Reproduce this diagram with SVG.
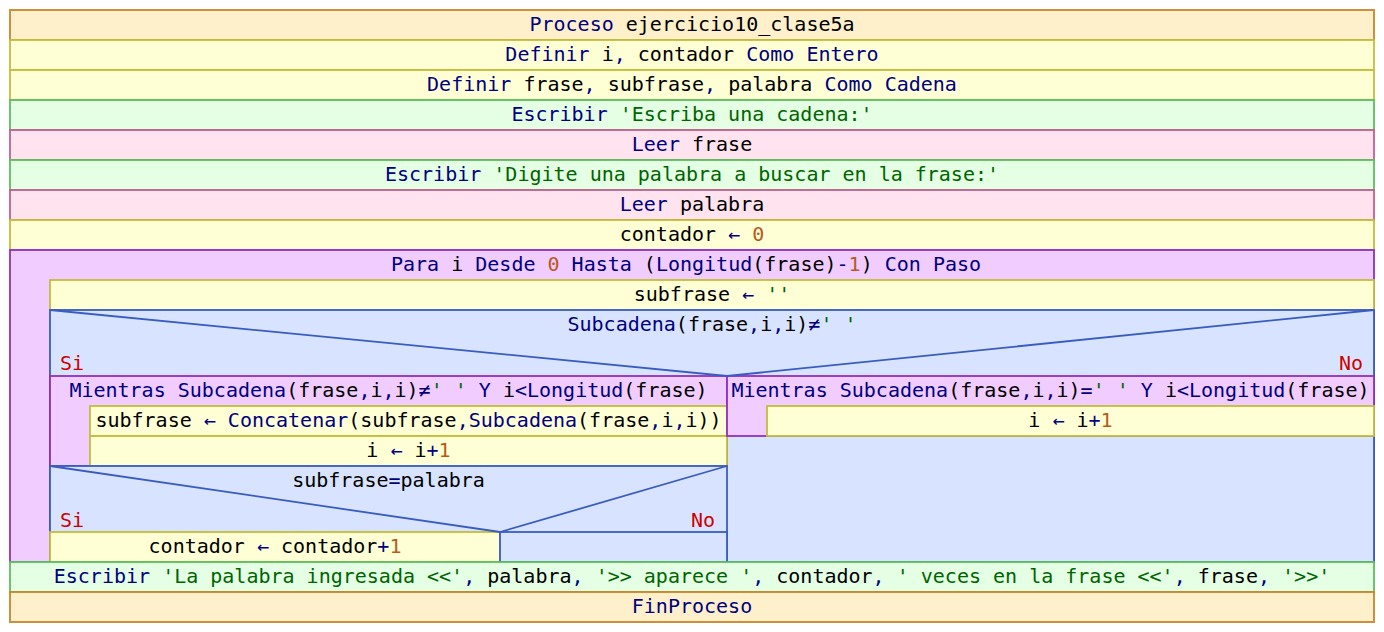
<svg xmlns="http://www.w3.org/2000/svg" width="1384" height="632" viewBox="0 0 1384 632">
<style>
text{font-family:"DejaVu Sans Mono","Liberation Mono",monospace;font-size:20px;fill:#000080;text-anchor:middle}
.st{stroke-width:1.8}
.proc{fill:#fff0cc;stroke:#c8862a}
.asg{fill:#ffffd6;stroke:#c4bc3c}
.out{fill:#e4ffe4;stroke:#5cbf5c}
.inp{fill:#ffe4f0;stroke:#c06090}
.loop{fill:#f0ccff;stroke:#9030c0}
.dec{fill:#d8e4ff;stroke:#3a5cc0}
.dl{fill:none;stroke:#3a5cc0;stroke-width:1.8}
.v{fill:#000}
.s{fill:#006400}
.n{fill:#b85a20}
.r{fill:#d00000}
.l{text-anchor:start}
.e{text-anchor:end}
</style>
<rect width="1384" height="632" fill="#fff"/>
<g id="n_proceso"><rect class="proc st" x="10" y="10" width="1364" height="30"/><text x="692" y="31">Proceso <tspan class="v">ejercicio10_clase5a</tspan></text></g>
<g id="n_def1"><rect class="asg st" x="10" y="40" width="1364" height="30"/><text x="692" y="61">Definir <tspan class="v">i</tspan>, <tspan class="v">contador</tspan> Como Entero</text></g>
<g id="n_def2"><rect class="asg st" x="10" y="70" width="1364" height="30"/><text x="692" y="91">Definir <tspan class="v">frase</tspan>, <tspan class="v">subfrase</tspan>, <tspan class="v">palabra</tspan> Como Cadena</text></g>
<g id="n_esc1"><rect class="out st" x="10" y="100" width="1364" height="30"/><text x="692" y="121">Escribir <tspan class="s">'Escriba una cadena:'</tspan></text></g>
<g id="n_leer1"><rect class="inp st" x="10" y="130" width="1364" height="30"/><text x="692" y="151">Leer <tspan class="v">frase</tspan></text></g>
<g id="n_esc2"><rect class="out st" x="10" y="160" width="1364" height="30"/><text x="692" y="181">Escribir <tspan class="s">'Digite una palabra a buscar en la frase:'</tspan></text></g>
<g id="n_leer2"><rect class="inp st" x="10" y="190" width="1364" height="30"/><text x="692" y="211">Leer <tspan class="v">palabra</tspan></text></g>
<g id="n_cont0"><rect class="asg st" x="10" y="220" width="1364" height="30"/><text x="692" y="241"><tspan class="v">contador</tspan> ← <tspan class="n">0</tspan></text></g>
<g id="n_para"><rect class="loop st" x="10" y="250" width="1364" height="312"/><text x="686" y="271">Para <tspan class="v">i</tspan> Desde <tspan class="n">0</tspan> Hasta <tspan class="v">(</tspan>Longitud<tspan class="v">(frase)</tspan>-<tspan class="n">1</tspan><tspan class="v">)</tspan> Con Paso</text></g>
<g id="n_subfrase0"><rect class="asg st" x="50" y="280" width="1324" height="30"/><text x="712" y="301"><tspan class="v">subfrase</tspan> ← <tspan class="s">''</tspan></text></g>
<g id="n_si1"><rect class="dec st" x="50" y="310" width="1324" height="252"/><text x="712" y="331">Subcadena<tspan class="v">(frase</tspan>,<tspan class="v">i</tspan>,<tspan class="v">i)</tspan>≠<tspan class="s">' '</tspan></text><text class="r l" x="60" y="370">Si</text><text class="r e" x="1363" y="370">No</text></g>
<g id="n_mientras1"><rect class="loop st" x="50" y="376" width="677" height="90"/><text x="388.5" y="397">Mientras Subcadena<tspan class="v">(frase</tspan>,<tspan class="v">i</tspan>,<tspan class="v">i)</tspan>≠<tspan class="s">' '</tspan> Y <tspan class="v">i</tspan>&lt;Longitud<tspan class="v">(frase)</tspan></text></g>
<g id="n_concat"><rect class="asg st" x="90" y="406" width="637" height="30"/><text x="408.5" y="427"><tspan class="v">subfrase</tspan> ← Concatenar<tspan class="v">(subfrase</tspan>,Subcadena<tspan class="v">(frase</tspan>,<tspan class="v">i</tspan>,<tspan class="v">i))</tspan></text></g>
<g id="n_inc1"><rect class="asg st" x="90" y="436" width="637" height="30"/><text x="408.5" y="457"><tspan class="v">i</tspan> ← <tspan class="v">i</tspan>+<tspan class="n">1</tspan></text></g>
<g id="n_mientras2"><rect class="loop st" x="727" y="376" width="647" height="60"/><text x="1050.5" y="397">Mientras Subcadena<tspan class="v">(frase</tspan>,<tspan class="v">i</tspan>,<tspan class="v">i)</tspan>=<tspan class="s">' '</tspan> Y <tspan class="v">i</tspan>&lt;Longitud<tspan class="v">(frase)</tspan></text></g>
<g id="n_inc2"><rect class="asg st" x="767" y="406" width="607" height="30"/><text x="1070.5" y="427"><tspan class="v">i</tspan> ← <tspan class="v">i</tspan>+<tspan class="n">1</tspan></text></g>
<g id="n_si2"><rect class="dec st" x="50" y="466" width="677" height="96"/><text x="388.5" y="487"><tspan class="v">subfrase</tspan>=<tspan class="v">palabra</tspan></text><text class="r l" x="60" y="527">Si</text><text class="r e" x="715" y="527">No</text></g>
<g id="n_continc"><rect class="asg st" x="50" y="532" width="450" height="30"/><text x="275" y="553"><tspan class="v">contador</tspan> ← <tspan class="v">contador</tspan>+<tspan class="n">1</tspan></text></g>
<g id="n_no2"><rect class="dec st" x="500" y="532" width="227" height="30"/></g>
<g id="n_esc3"><rect class="out st" x="10" y="562" width="1364" height="30"/><text x="692" y="583">Escribir <tspan class="s">'La palabra ingresada &lt;&lt;'</tspan>, <tspan class="v">palabra</tspan>, <tspan class="s">'&gt;&gt; aparece '</tspan>, <tspan class="v">contador</tspan>, <tspan class="s">' veces en la frase &lt;&lt;'</tspan>, <tspan class="v">frase</tspan>, <tspan class="s">'&gt;&gt;'</tspan></text></g>
<g id="n_fin"><rect class="proc st" x="10" y="592" width="1364" height="30"/><text x="692" y="613">FinProceso</text></g>
<g id="connectors">
<polyline class="dl" points="50,310 727,376 1374,310"/>
<polyline class="dl" points="50,466 500,532 727,466"/>
</g>
</svg>
